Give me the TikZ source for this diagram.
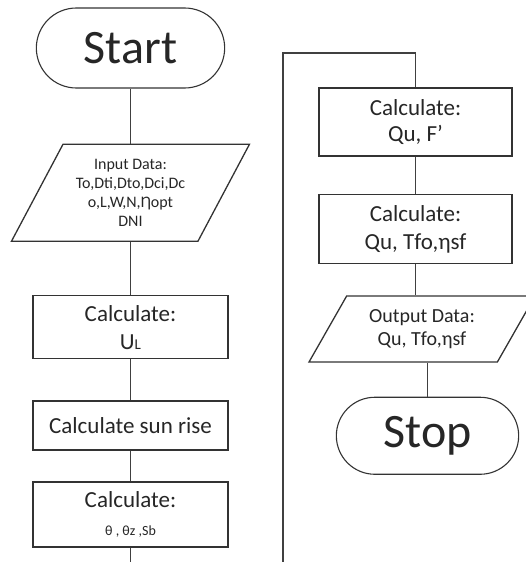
\documentclass[tikz,border=0pt]{standalone}
\usepackage{fontspec}
\setmainfont{Carlito}
\usetikzlibrary{shapes.misc,shapes.geometric,positioning}

\begin{document}
\begin{tikzpicture}[
    x=1pt, y=-1pt,
    line width=1.3pt,
    every node/.style={text=black!85},
    term/.style={rounded rectangle, draw=black!80, line width=1.1pt, minimum width=195pt, minimum height=80pt, font=\fontsize{48}{50}\selectfont},
    box/.style={rectangle, draw=black!80, line width=1.6pt, minimum width=195pt, minimum height=63pt, align=center, font=\fontsize{23}{28}\selectfont},
    io/.style={trapezium, trapezium left angle=60, trapezium right angle=120, trapezium stretches body, draw=black!80, line width=1.3pt, align=center},
    line/.style={draw=black!75, line width=1.5pt}
]
    \useasboundingbox (0,0) rectangle (525,562);

    % left column
    \node[term] (start) at (130.5,48) {Start};
    \node[io, below=55pt of start, minimum width=238pt, minimum height=97pt, inner ysep=11pt,
          font=\fontsize{16}{19}\selectfont] (inp)
          {Input Data:\\To,Dti,Dto,Dci,Dc\\o,L,W,N,Ƞopt\\DNI};
    \node[box, below=53pt of inp] (ul) {Calculate:\\U{\fontsize{15}{15}\selectfont L}};
    \node[box, below=41pt of ul, minimum height=49pt] (sun) {Calculate sun rise};
    \node[box, below=30pt of sun, minimum height=65pt] (theta)
          {Calculate:\\{\fontsize{14}{14}\selectfont θ , θz ,Sb}};
    \coordinate (lend) at (130.5,562);

    % right column
    \node[box, minimum width=193pt, minimum height=68pt, font=\fontsize{23}{26}\selectfont] (qf) at (415.5,122) {Calculate:\\Qu, F’};
    \node[box, below=37pt of qf, minimum width=193pt, minimum height=69pt] (qt) {Calculate:\\Qu, Tfo,ηsf};
    \node[io, below=31pt of qt, xshift=6.5pt, minimum width=226pt, minimum height=66pt, inner ysep=13pt,
          font=\fontsize{20}{23}\selectfont] (out) {Output Data:\\Qu, Tfo,ηsf};
    \node[term, below=34pt of out, xshift=5.5pt, minimum width=189pt, minimum height=77pt] (stop) {Stop};
    \coordinate (rtop) at (283,53);
    \coordinate (rend) at (283,562);

    \draw[line] (start.south) -- (start.south|-inp.north);
    \draw[line] (ul.north) -- (ul.north|-inp.south);
    \draw[line] (ul) -- (sun);
    \draw[line] (sun) -- (theta);
    \draw[line] (theta) -- (lend);

    \draw[line] (qf.north) -- (qf.north|-rtop) -- (rtop) -- (rend);
    \draw[line] (qf) -- (qt);
    \draw[line] (qt.south) -- (qt.south|-out.north);
    \draw[line] (stop.north) -- (stop.north|-out.south);
\end{tikzpicture}
\end{document}
